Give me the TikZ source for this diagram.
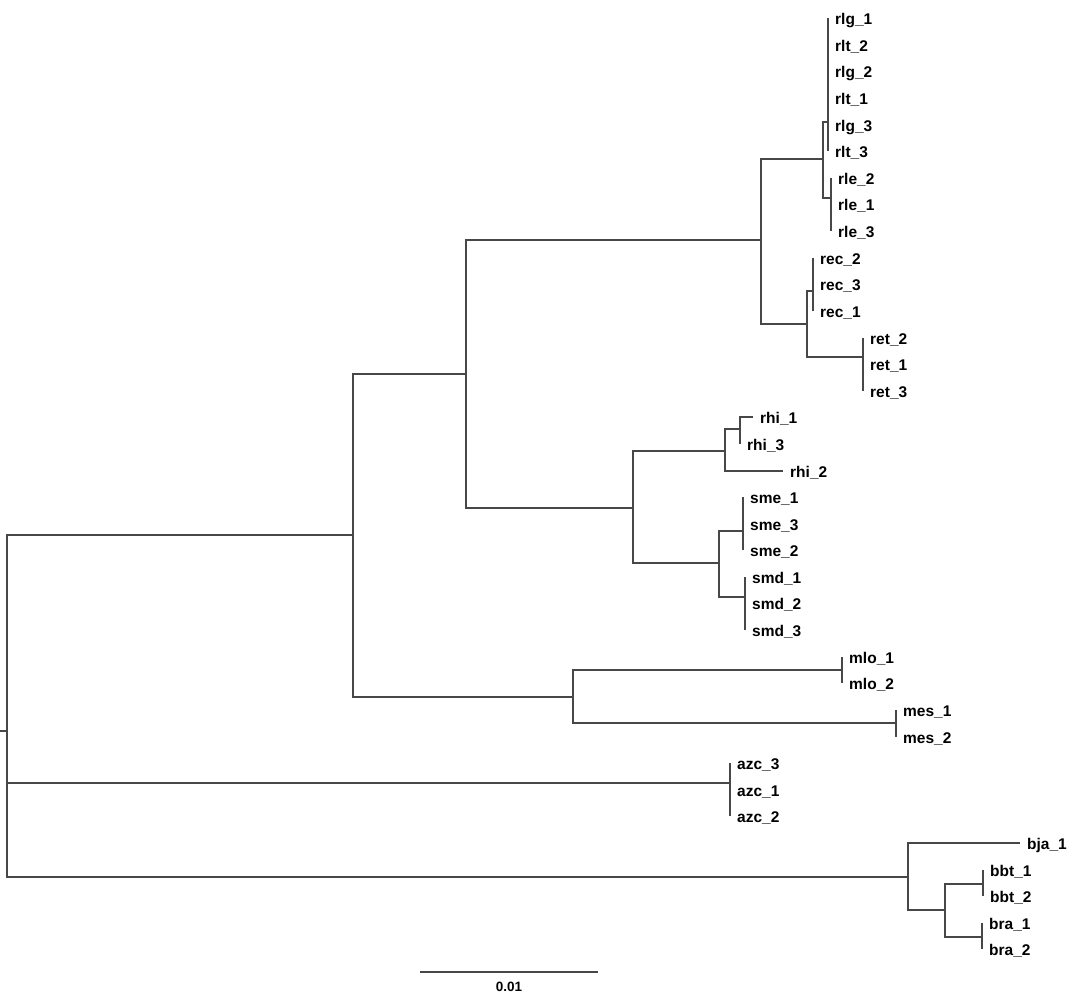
\documentclass[tikz,border=0pt]{standalone}
\usepackage{fontspec}
\setmainfont{Liberation Sans}
\tikzset{
  br/.style={line width=1.8pt, draw=black!72, line cap=square},
  lab/.style={anchor=base west, inner sep=0pt, font=\fontsize{15.5}{18}\selectfont\bfseries},
  sclab/.style={inner sep=0pt, font=\fontsize{13.5}{16}\selectfont\bfseries},
}
\newcommand{\lf}[4]{\coordinate (#1) at (#2,#3); \node[lab] (#1n) at ([shift={(7,6.5)}]#1) {#4};}
\begin{document}
\begin{tikzpicture}[x=1pt,y=-1pt]
\useasboundingbox (0,0) rectangle (1079,1000);
% internal nodes
\coordinate (r0) at (0,731);
\coordinate (R) at (7,731);
\coordinate (A) at (353,535);
\coordinate (C) at (466,374);
\coordinate (D) at (761,240);
\coordinate (F) at (823,159);
\coordinate (RLGT) at (828,122);
\coordinate (RLE) at (831,198);
\coordinate (G) at (807,324);
\coordinate (REC) at (813,291);
\coordinate (RET) at (863,357);
\coordinate (E) at (633,508);
\coordinate (H) at (725,451);
\coordinate (J) at (740,429);
\coordinate (I) at (719,563);
\coordinate (SME) at (743,531);
\coordinate (SMD) at (745,597);
\coordinate (M) at (573,697);
\coordinate (MLO) at (842,670);
\coordinate (MES) at (896,723);
\coordinate (AZC) at (730,783);
\coordinate (B) at (908,877);
\coordinate (K) at (945,910);
\coordinate (BBT) at (983,884);
\coordinate (BRA) at (982,937);
% leaves
\lf{rlg1}{828}{18}{rlg\_1}
\lf{rlt2}{828}{45}{rlt\_2}
\lf{rlg2}{828}{71}{rlg\_2}
\lf{rlt1}{828}{98}{rlt\_1}
\lf{rlg3}{828}{125}{rlg\_3}
\lf{rlt3}{828}{151}{rlt\_3}
\lf{rle2}{831}{178}{rle\_2}
\lf{rle1}{831}{204}{rle\_1}
\lf{rle3}{831}{231}{rle\_3}
\lf{rec2}{813}{258}{rec\_2}
\lf{rec3}{813}{284}{rec\_3}
\lf{rec1}{813}{311}{rec\_1}
\lf{ret2}{863}{338}{ret\_2}
\lf{ret1}{863}{364}{ret\_1}
\lf{ret3}{863}{391}{ret\_3}
\lf{rhi1}{753}{417}{rhi\_1}
\lf{rhi3}{740}{444}{rhi\_3}
\lf{rhi2}{783}{471}{rhi\_2}
\lf{sme1}{743}{497}{sme\_1}
\lf{sme3}{743}{524}{sme\_3}
\lf{sme2}{743}{550}{sme\_2}
\lf{smd1}{745}{577}{smd\_1}
\lf{smd2}{745}{603}{smd\_2}
\lf{smd3}{745}{630}{smd\_3}
\lf{mlo1}{842}{657}{mlo\_1}
\lf{mlo2}{842}{683}{mlo\_2}
\lf{mes1}{896}{710}{mes\_1}
\lf{mes2}{896}{737}{mes\_2}
\lf{azc3}{730}{763}{azc\_3}
\lf{azc1}{730}{790}{azc\_1}
\lf{azc2}{730}{816}{azc\_2}
\lf{bja1}{1020}{843}{bja\_1}
\lf{bbt1}{983}{870}{bbt\_1}
\lf{bbt2}{983}{896}{bbt\_2}
\lf{bra1}{982}{923}{bra\_1}
\lf{bra2}{982}{949}{bra\_2}
% branches
\draw[br] (r0) -- (R);
\draw[br] (R) |- (A);
\draw[br] (R) |- (AZC);
\draw[br] (R) |- (B);
\draw[br] (A) |- (C);
\draw[br] (A) |- (M);
\draw[br] (C) |- (D);
\draw[br] (C) |- (E);
\draw[br] (D) |- (F);
\draw[br] (D) |- (G);
\draw[br] (F) |- (RLGT);
\draw[br] (F) |- (RLE);
\foreach \t in {rlg1,rlt2,rlg2,rlt1,rlg3,rlt3} \draw[br] (RLGT) |- (\t);
\foreach \t in {rle2,rle1,rle3} \draw[br] (RLE) |- (\t);
\draw[br] (G) |- (REC);
\draw[br] (G) |- (RET);
\foreach \t in {rec2,rec3,rec1} \draw[br] (REC) |- (\t);
\foreach \t in {ret2,ret1,ret3} \draw[br] (RET) |- (\t);
\draw[br] (E) |- (H);
\draw[br] (E) |- (I);
\draw[br] (H) |- (J);
\draw[br] (H) |- (rhi2);
\draw[br] (J) |- (rhi1);
\draw[br] (J) |- (rhi3);
\draw[br] (I) |- (SME);
\draw[br] (I) |- (SMD);
\foreach \t in {sme1,sme3,sme2} \draw[br] (SME) |- (\t);
\foreach \t in {smd1,smd2,smd3} \draw[br] (SMD) |- (\t);
\draw[br] (M) |- (MLO);
\draw[br] (M) |- (MES);
\foreach \t in {mlo1,mlo2} \draw[br] (MLO) |- (\t);
\foreach \t in {mes1,mes2} \draw[br] (MES) |- (\t);
\foreach \t in {azc3,azc1,azc2} \draw[br] (AZC) |- (\t);
\draw[br] (B) |- (bja1);
\draw[br] (B) |- (K);
\draw[br] (K) |- (BBT);
\draw[br] (K) |- (BRA);
\foreach \t in {bbt1,bbt2} \draw[br] (BBT) |- (\t);
\foreach \t in {bra1,bra2} \draw[br] (BRA) |- (\t);
% scale bar
\coordinate (sbA) at (420,972);
\coordinate (sbB) at (598,972);
\draw[br, line cap=butt] (sbA) -- (sbB);
\node[sclab] (sbl) at (509,987) {0.01};
\end{tikzpicture}
\end{document}
